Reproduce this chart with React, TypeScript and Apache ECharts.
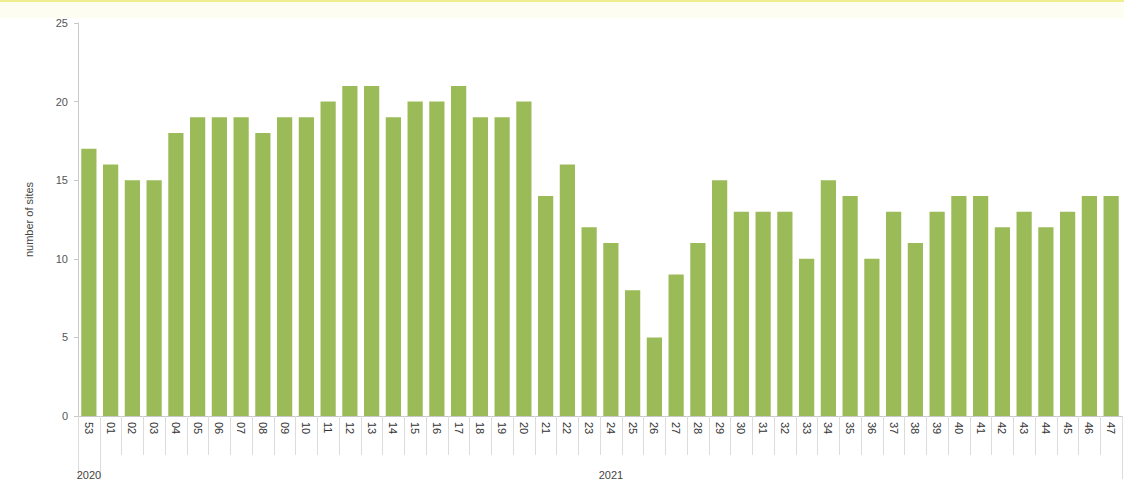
import React, { useEffect, useRef } from "react";
import * as echarts from "echarts";

const weeks = ["53","01","02","03","04","05","06","07","08","09","10","11","12","13","14","15","16","17","18","19","20","21","22","23","24","25","26","27","28","29","30","31","32","33","34","35","36","37","38","39","40","41","42","43","44","45","46","47"];
const sites = [17,16,15,15,18,19,19,19,18,19,19,20,21,21,19,20,20,21,19,19,20,14,16,12,11,8,5,9,11,15,13,13,13,10,15,14,10,13,11,13,14,14,12,13,12,13,14,14];
const yearLabels = weeks.map((_, i) => (i === 0 ? "2020" : i === 24 ? "2021" : ""));
const yTitle = "number of sites";

export default function App() {
  const ref = useRef<HTMLDivElement>(null);
  useEffect(() => {
    if (!ref.current) return;
    const chart = echarts.init(ref.current, null, { renderer: "svg" });
    const font = "Liberation Sans, Arial, sans-serif";
    chart.setOption({
      animation: false,
      backgroundColor: "#ffffff",
      grid: { left: 78, right: 2, top: 23, bottom: 67, containLabel: false },
      graphic: [
        { type: "rect", left: 0, top: 0, shape: { width: 1124, height: 18 }, style: { fill: "#fdfdf2" }, silent: true },
        { type: "rect", left: 0, top: 0, shape: { width: 1124, height: 2 }, style: { fill: "#eeee90" }, silent: true },
      ],
      xAxis: [
        {
          type: "category",
          data: weeks,
          position: "bottom",
          axisLine: { show: true, lineStyle: { color: "#c8c8c8", width: 1 } },
          axisTick: { show: true, length: 39, interval: 0, lineStyle: { color: "#dcdcdc" } },
          axisLabel: { interval: 0, rotate: -90, fontSize: 11, color: "#333", fontFamily: font, margin: 6 },
        },
        {
          type: "category",
          data: yearLabels,
          position: "bottom",
          offset: 39,
          axisLine: { show: false },
          axisTick: {
            show: true,
            length: 24,
            interval: (i: number) => i === 0 || i === 1,
            lineStyle: { color: "#dcdcdc" },
          },
          axisLabel: { interval: 0, fontSize: 11, color: "#444", fontFamily: font, margin: 14 },
        },
      ],
      yAxis: {
        type: "value",
        min: 0,
        max: 25,
        interval: 5,
        name: yTitle,
        nameLocation: "middle",
        nameGap: 44,
        nameTextStyle: { fontSize: 11, color: "#444", fontFamily: font },
        axisLine: { show: true, lineStyle: { color: "#c8c8c8" } },
        axisTick: { show: true, length: 4, lineStyle: { color: "#c8c8c8" } },
        axisLabel: { fontSize: 11, color: "#555", fontFamily: font, margin: 10 },
        splitLine: { show: false },
      },
      series: [
        {
          type: "bar",
          data: sites,
          xAxisIndex: 0,
          barWidth: "70%",
          itemStyle: { color: "#9bbb59" },
        },
      ],
    });
    return () => chart.dispose();
  }, []);
  return <div ref={ref} style={{ position: "fixed", left: 0, top: 0, width: 1124, height: 483 }} />;
}
